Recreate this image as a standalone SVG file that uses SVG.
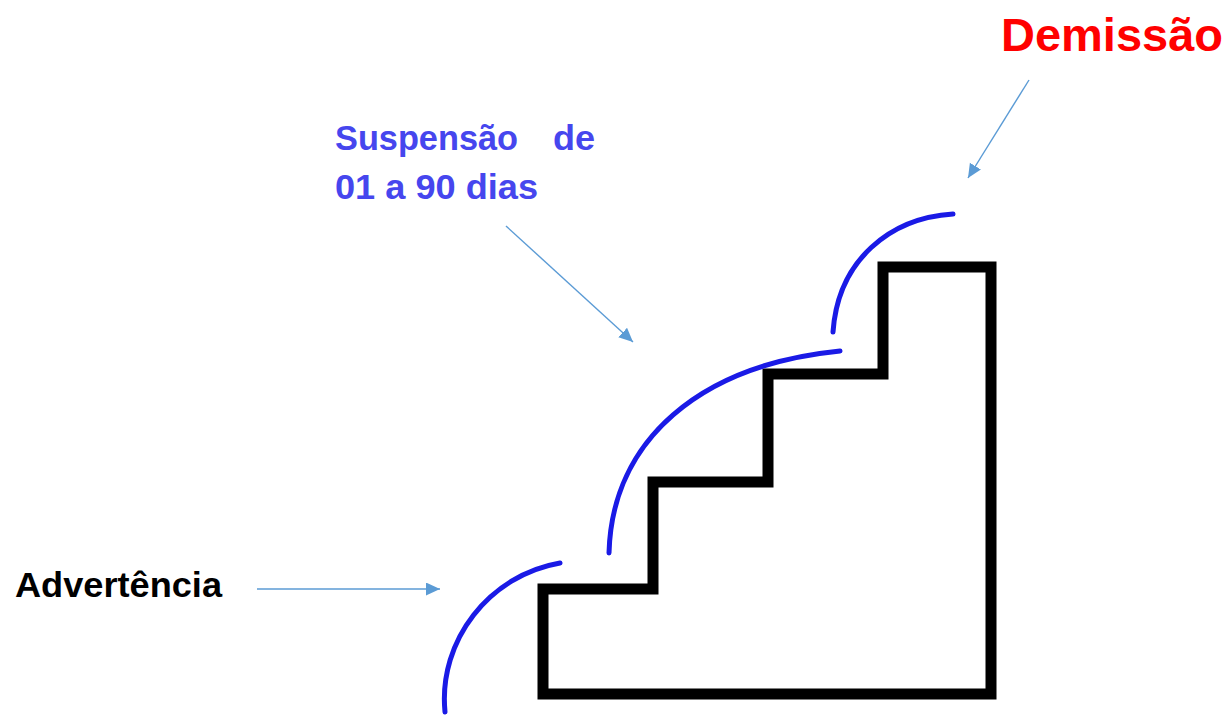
<svg xmlns="http://www.w3.org/2000/svg" width="1231" height="716" viewBox="0 0 1231 716">
  <style>
    .lbl { font-family: "Liberation Sans", Arial, sans-serif; font-weight: bold; }
    .arc { fill: none; stroke: #1a1ae6; stroke-width: 5; stroke-linecap: round; }
    .conn { fill: none; stroke: #5b9bd5; stroke-width: 1.4; }
  </style>
  <defs>
    <marker id="ah" markerUnits="userSpaceOnUse" markerWidth="16" markerHeight="14" refX="14" refY="6.5" orient="auto">
      <path d="M0,0 L14,6.5 L0,13 Z" fill="#5b9bd5"/>
    </marker>
  </defs>
  <rect width="1231" height="716" fill="#ffffff"/>
  <g id="stairs">
    <path d="M543,589 H653 V482 H768 V374 H883 V267 H991 V694 H543 Z" fill="none" stroke="#000" stroke-width="11" stroke-linejoin="miter"/>
  </g>
  <g id="arcs">
    <path class="arc" d="M445,712 C438,640 490,575 560,563"/>
    <path class="arc" d="M609,553 C612,440 700,365 840,351"/>
    <path class="arc" d="M833,332 C838,260 890,218 953,214"/>
  </g>
  <g id="demissao">
    <text class="lbl" x="1001" y="51" font-size="46" fill="#ff0000" textLength="222" lengthAdjust="spacingAndGlyphs">Demissão</text>
  </g>
  <g id="suspensao">
    <text class="lbl" x="335" y="150" font-size="35" fill="#4646ee"><tspan x="335" textLength="183" lengthAdjust="spacingAndGlyphs">Suspensão</tspan><tspan x="553" textLength="42" lengthAdjust="spacingAndGlyphs">de</tspan></text>
    <text class="lbl" x="335" y="199" font-size="35" fill="#4646ee" textLength="203" lengthAdjust="spacingAndGlyphs">01 a 90 dias</text>
  </g>
  <g id="advertencia">
    <text class="lbl" x="15" y="597" font-size="35" fill="#000000" textLength="207" lengthAdjust="spacingAndGlyphs">Advertência</text>
  </g>
  <g id="connectors">
    <line class="conn" x1="1029" y1="80" x2="968" y2="178" marker-end="url(#ah)"/>
    <line class="conn" x1="506" y1="226" x2="633" y2="342" marker-end="url(#ah)"/>
    <line class="conn" x1="257" y1="589" x2="440" y2="589" marker-end="url(#ah)"/>
  </g>
</svg>
